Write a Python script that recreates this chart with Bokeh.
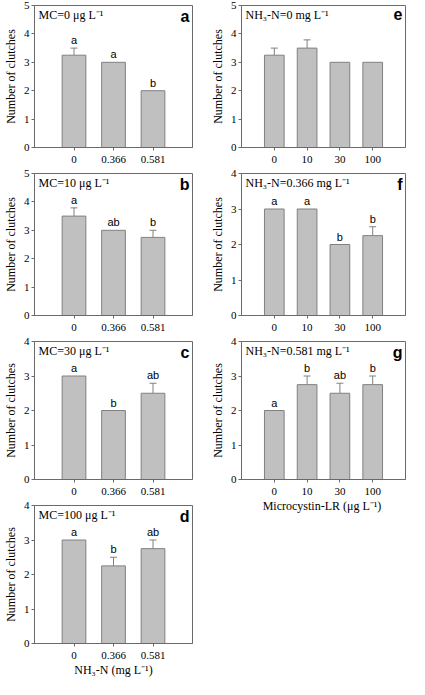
from bokeh.plotting import figure
from bokeh.layouts import row, column
from bokeh.models import Range1d, FixedTicker, ColumnDataSource, Whisker, TeeHead, Label
from bokeh.core.properties import value
from bokeh.embed import file_html
from bokeh.resources import INLINE

# ---------------- data ----------------
nh3_labels = ["0", "0.366", "0.581"]
mc_labels = ["0", "10", "30", "100"]

# left column: fixed microcystin, varying NH3-N
mc0_mean = [3.25, 3.0, 2.0]
mc0_se = [0.25, 0.0, 0.0]
mc0_letters = ["a", "a", "b"]

mc10_mean = [3.5, 3.0, 2.75]
mc10_se = [0.29, 0.0, 0.25]
mc10_letters = ["a", "ab", "b"]

mc30_mean = [3.0, 2.0, 2.5]
mc30_se = [0.0, 0.0, 0.29]
mc30_letters = ["a", "b", "ab"]

mc100_mean = [3.0, 2.25, 2.75]
mc100_se = [0.0, 0.25, 0.25]
mc100_letters = ["a", "b", "ab"]

# right column: fixed NH3-N, varying microcystin
nh0_mean = [3.25, 3.5, 3.0, 3.0]
nh0_se = [0.25, 0.29, 0.0, 0.0]
nh0_letters = ["", "", "", ""]

nh366_mean = [3.0, 3.0, 2.0, 2.25]
nh366_se = [0.0, 0.0, 0.0, 0.25]
nh366_letters = ["a", "a", "b", "b"]

nh581_mean = [2.0, 2.75, 2.5, 2.75]
nh581_se = [0.0, 0.25, 0.29, 0.25]
nh581_letters = ["a", "b", "ab", "b"]

AX = "#6a6a6a"
BAR_FILL = "#c0c0c0"
BAR_LINE = "#808080"
SERIF = "Liberation Serif"
SANS = "Liberation Sans"


def panel(cats, means, ses, letters, ymax, note, tag, width, height,
          left, right, bottom, xlabel=None):
    n = len(cats)
    xs = list(range(1, n + 1))
    p = figure(width=width, height=height, output_backend="svg",
               toolbar_location=None, x_range=Range1d(0, n + 1),
               y_range=Range1d(0, ymax), min_border_left=left,
               min_border_right=right, min_border_top=5,
               min_border_bottom=bottom)
    p.background_fill_color = "white"
    p.border_fill_color = "white"
    p.outline_line_color = AX
    p.outline_line_width = 1
    p.xgrid.visible = False
    p.ygrid.visible = False

    src = ColumnDataSource(dict(x=xs, top=means))
    p.vbar(x="x", top="top", bottom=0, width=0.6, source=src,
           fill_color=BAR_FILL, line_color=BAR_LINE, line_width=1)

    ex = [x for x, s in zip(xs, ses) if s > 0]
    elo = [m for m, s in zip(means, ses) if s > 0]
    ehi = [m + s for m, s in zip(means, ses) if s > 0]
    if ex:
        esrc = ColumnDataSource(dict(x=ex, lower=elo, upper=ehi))
        w = Whisker(source=esrc, base="x", lower="lower", upper="upper",
                    dimension="height", line_color=BAR_LINE, line_width=1,
                    upper_head=TeeHead(size=7, line_color=BAR_LINE, line_width=1),
                    lower_head=None)
        p.add_layout(w)

    lx = [x for x, l in zip(xs, letters) if l]
    ly = [m + s for m, s, l in zip(means, ses, letters) if l]
    lt = [l for l in letters if l]
    if lx:
        tsrc = ColumnDataSource(dict(x=lx, y=ly, t=lt))
        p.text(x="x", y="y", text="t", source=tsrc, text_align="center",
               text_baseline="bottom", y_offset=-2,
               text_font=value(SANS), text_font_size="11px", text_color="black")

    p.add_layout(Label(x=0, y=ymax, x_offset=4, y_offset=-2, text=note,
                       text_baseline="top", text_align="left",
                       text_font=SERIF, text_font_size="12px",
                       text_color="black"))
    p.add_layout(Label(x=n + 1, y=ymax, x_offset=-3, y_offset=-2, text=tag,
                       text_baseline="top", text_align="right",
                       text_font=SANS, text_font_style="bold",
                       text_font_size="16px", text_color="black"))

    xa = p.xaxis[0]
    xa.ticker = FixedTicker(ticks=xs)
    xa.major_label_overrides = {x: c for x, c in zip(xs, cats)}
    xa.minor_tick_line_color = None
    xa.major_tick_out = 3
    xa.major_tick_in = 0
    xa.major_label_standoff = 5
    xa.axis_line_color = AX
    xa.major_tick_line_color = AX
    xa.major_label_text_font = SERIF
    xa.major_label_text_font_size = "11px"
    xa.major_label_text_color = "black"
    if xlabel:
        xa.axis_label = xlabel
        xa.axis_label_standoff = 1
        xa.axis_label_text_font = SERIF
        xa.axis_label_text_font_size = "12px"
        xa.axis_label_text_font_style = "normal"
        xa.axis_label_text_color = "black"

    ya = p.yaxis[0]
    ya.ticker = FixedTicker(ticks=list(range(0, ymax + 1)))
    ya.minor_tick_line_color = None
    ya.major_tick_out = 3
    ya.major_tick_in = 0
    ya.major_label_standoff = 2
    ya.axis_line_color = AX
    ya.major_tick_line_color = AX
    ya.major_label_text_font = SERIF
    ya.major_label_text_font_size = "11px"
    ya.major_label_text_color = "black"
    ya.axis_label = "Number of clutches"
    ya.axis_label_standoff = 3
    ya.axis_label_text_font = SERIF
    ya.axis_label_text_font_size = "12px"
    ya.axis_label_text_font_style = "normal"
    ya.axis_label_text_color = "black"
    return p


LW, RW = 204, 205
pa = panel(nh3_labels, mc0_mean, mc0_se, mc0_letters, 5, "MC=0 μg L⁻¹", "a",
           LW, 168, 27, 12, 21)
pb = panel(nh3_labels, mc10_mean, mc10_se, mc10_letters, 5, "MC=10 μg L⁻¹", "b",
           LW, 168, 27, 12, 21)
pc = panel(nh3_labels, mc30_mean, mc30_se, mc30_letters, 4, "MC=30 μg L⁻¹", "c",
           LW, 164, 27, 12, 21)
pd = panel(nh3_labels, mc100_mean, mc100_se, mc100_letters, 4, "MC=100 μg L⁻¹", "d",
           LW, 179, 27, 12, 36, xlabel="NH₃-N (mg L⁻¹)")

pe = panel(mc_labels, nh0_mean, nh0_se, nh0_letters, 5, "NH₃-N=0 mg L⁻¹", "e",
           RW, 168, 37, 4, 21)
pf = panel(mc_labels, nh366_mean, nh366_se, nh366_letters, 4, "NH₃-N=0.366 mg L⁻¹", "f",
           RW, 168, 37, 4, 21)
pg = panel(mc_labels, nh581_mean, nh581_se, nh581_letters, 4, "NH₃-N=0.581 mg L⁻¹", "g",
           RW, 179, 37, 4, 36, xlabel="Microcystin-LR  (μg L⁻¹)")

layout = row(column(pa, pb, pc, pd), column(pe, pf, pg))

open("out.html", "w").write(file_html(layout, INLINE))
